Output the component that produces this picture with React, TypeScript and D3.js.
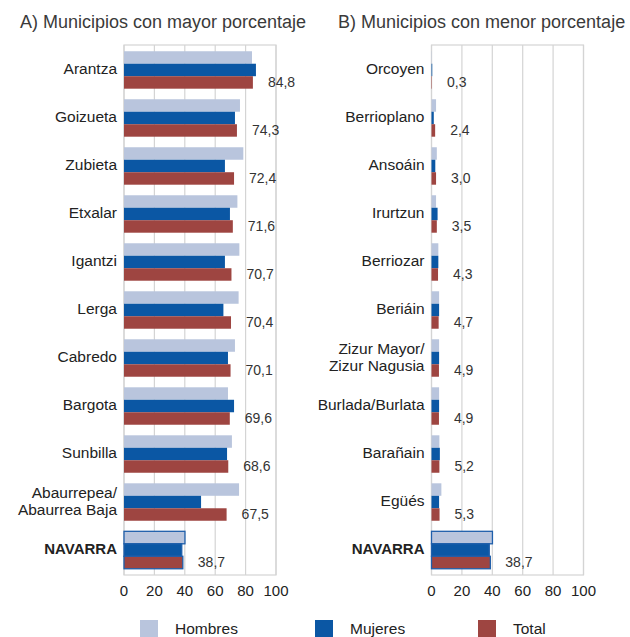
import React from 'react';
import * as d3 from 'd3';

// Panel A: municipalities with highest percentage
const mayorNames = ['Arantza', 'Goizueta', 'Zubieta', 'Etxalar', 'Igantzi', 'Lerga', 'Cabredo', 'Bargota', 'Sunbilla', 'Abaurrepea/\nAbaurrea Baja', 'NAVARRA'];
const mayorHombres = [84.2, 76.3, 78.5, 74.6, 75.9, 75.4, 73.0, 68.4, 71.0, 75.7, 40.1];
const mayorMujeres = [86.8, 73.0, 66.4, 69.7, 66.4, 65.4, 68.4, 72.4, 67.8, 50.7, 38.0];
const mayorTotal = [84.8, 74.3, 72.4, 71.6, 70.7, 70.4, 70.1, 69.6, 68.6, 67.5, 38.7];

// Panel B: municipalities with lowest percentage
const menorNames = ['Orcoyen', 'Berrioplano', 'Ansoáin', 'Irurtzun', 'Berriozar', 'Beriáin', 'Zizur Mayor/\nZizur Nagusia', 'Burlada/Burlata', 'Barañain', 'Egüés', 'NAVARRA'];
const menorHombres = [0.2, 3.0, 3.5, 3.0, 4.5, 5.0, 5.0, 5.0, 5.2, 6.5, 40.1];
const menorMujeres = [0.5, 1.5, 2.5, 4.0, 4.5, 5.0, 5.0, 5.0, 5.5, 5.0, 38.0];
const menorTotal = [0.3, 2.4, 3.0, 3.5, 4.3, 4.7, 4.9, 4.9, 5.2, 5.3, 38.7];

const ticks = [0, 20, 40, 60, 80, 100];
const seriesNames = ['Hombres', 'Mujeres', 'Total'];
const colors = ['#b9c5dd', '#0b57a4', '#9e4541'];

const FONT = '"Liberation Sans", Arial, sans-serif';
const fmt = (v: number) => v.toFixed(1).replace('.', ',');

const Panel = ({ title, names, h, m, t, x0, titleX }: any) => {
  const top = 45, bottom = 575;
  const x = d3.scaleLinear().domain([0, 100]).range([x0, x0 + 152]);
  const y = d3.scaleBand<number>().domain(d3.range(names.length)).range([top, bottom]).paddingInner(0.22).paddingOuter(0.13);
  const sub = d3.scaleBand<number>().domain([0, 1, 2]).range([0, y.bandwidth()]);
  return (
    <g>
      <text x={titleX} y={28} fontSize={18} fill="#3a3a3a" fontFamily={FONT}>{title}</text>
      <rect x={x(0)} y={top} width={x(100) - x(0)} height={bottom - top} fill="#fff" stroke="#d4d4d4" strokeWidth={1.2} />
      {ticks.map(tk => (
        <g key={tk}>
          <line x1={x(tk)} x2={x(tk)} y1={top} y2={bottom} stroke="#d4d4d4" strokeWidth={1.2} />
          <text x={x(tk)} y={592} textAnchor="middle" dominantBaseline="middle" fontSize={15} fill="#222" fontFamily={FONT}>{tk}</text>
        </g>
      ))}
      {names.map((name: string, i: number) => {
        const y0 = y(i) as number;
        const cy = y0 + y.bandwidth() / 2;
        const vals = [h[i], m[i], t[i]];
        const isTotal = name === 'NAVARRA';
        const lines = name.split('\n');
        return (
          <g key={name}>
            {vals.map((v, k) => (
              <rect key={k} x={x(0)} y={y0 + (sub(k) as number)} width={x(v) - x(0)} height={sub.bandwidth()}
                fill={colors[k]} stroke={isTotal ? '#1f5fab' : 'none'} strokeWidth={isTotal ? 1.3 : 0} />
            ))}
            {lines.map((ln, li) => (
              <text key={li} x={x(0) - 7} y={cy + (li - (lines.length - 1) / 2) * 17} textAnchor="end" dominantBaseline="middle"
                fontSize={isTotal ? 15 : 15.5} fontWeight={isTotal ? 'bold' : 'normal'} fill="#222" fontFamily={FONT}>{ln}</text>
            ))}
            <text x={x(t[i]) + 15} y={y0 + (sub(2) as number) + sub.bandwidth() / 2 + 1} dominantBaseline="middle"
              fontSize={14} fill="#333" fontFamily={FONT}>{fmt(t[i])}</text>
          </g>
        );
      })}
    </g>
  );
};

export default function App() {
  const legendX = [140, 315, 478];
  return (
    <svg width={630} height={637} style={{ position: 'absolute', left: 0, top: 0, background: '#fff' }}>
      <rect width={630} height={637} fill="#fff" />
      <Panel title="A) Municipios con mayor porcentaje" names={mayorNames} h={mayorHombres} m={mayorMujeres} t={mayorTotal} x0={124} titleX={20} />
      <Panel title="B) Municipios con menor porcentaje" names={menorNames} h={menorHombres} m={menorMujeres} t={menorTotal} x0={431.5} titleX={338} />
      {seriesNames.map((s, k) => (
        <g key={s}>
          <rect x={legendX[k]} y={620} width={18} height={18} fill={colors[k]} />
          <text x={legendX[k] + 35} y={630} dominantBaseline="middle" fontSize={15.5} fill="#222" fontFamily={FONT}>{s}</text>
        </g>
      ))}
    </svg>
  );
}
